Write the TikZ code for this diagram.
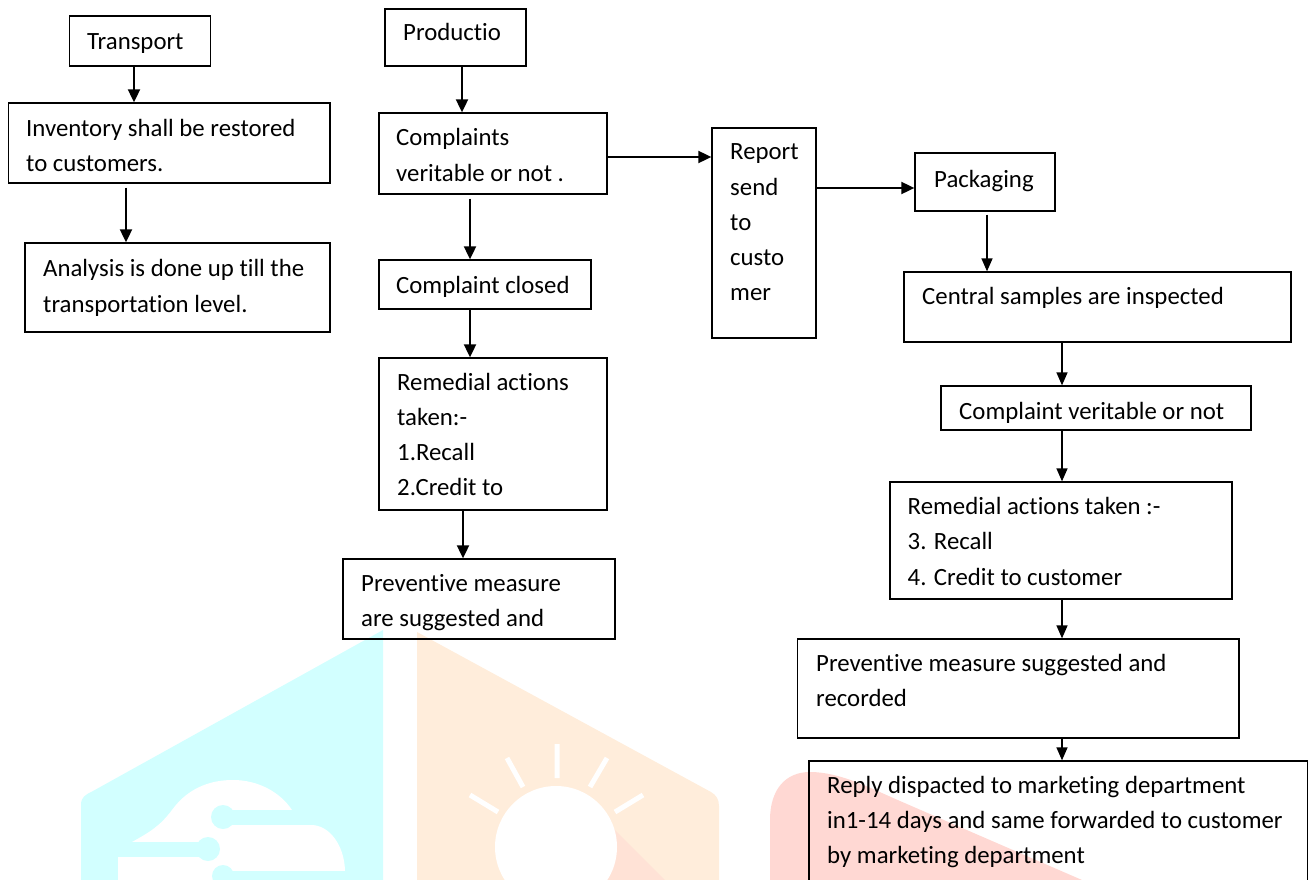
\documentclass[tikz,border=0pt]{standalone}
\usepackage{fontspec}
\setmainfont{Carlito}[Ligatures={NoCommon,NoRare,NoContextual}]
\usetikzlibrary{arrows.meta,fit}
\definecolor{wmcyan}{HTML}{D2FFFF}
\definecolor{wmorange}{HTML}{FFEDDB}
\definecolor{wmred}{HTML}{FFD8D3}
\definecolor{wmmix}{HTML}{FFE2D6}
\newcommand\tlines[5]{%
  \foreach \t [count=\i] in {#5} {%
    \node[txt] (#1-\i) at (#2,{#3+(\i-1)*#4}) {\t};}}
\begin{document}
\begin{tikzpicture}[x=1pt,y=-1pt,
  box/.style={draw,line width=1.3pt,inner sep=0pt,fit={#1}},
  txt/.style={inner sep=0pt,anchor=base west,font=\fontsize{24.8}{35.5}\selectfont},
  arr/.style={line width=1.9pt,-{Triangle[width=12pt,length=13pt]}},
  arrb/.style={line width=1.4pt,-{Triangle[width=11pt,length=13pt]}}]
\useasboundingbox (0,0) rectangle (1309,880);
% ---- watermark ----
\fill[wmcyan] (81,880) -- (81,805) .. controls (81,797) and (85,795) .. (93,791) -- (383,630) -- (383,880) -- cycle;
\fill[white] (118,880) -- (118,842) -- (132,842) .. controls (150,832) and (160,826) .. (172,810)
   .. controls (190,785) and (215,780) .. (233,780) .. controls (258,780) and (280,792) .. (292,810)
   -- (300,825) -- (313,825) .. controls (333,827) and (345,850) .. (345,872) -- (345,880) -- cycle;
\fill[wmcyan] (223,810) rectangle (320,825);
\fill[wmcyan] (223,817) circle (12);
\fill[wmcyan] (105,842) rectangle (208,857);
\fill[wmcyan] (208,849) circle (12);
\fill[wmcyan] (223,871) rectangle (350,880);
\fill[wmcyan] (223,876) circle (11);
\fill[wmorange] (417,880) -- (417,632) -- (711,792) .. controls (716,795) and (719,799) .. (719,806) -- (719,880) -- cycle;
\fill[wmmix] (600,815) -- (665,880) -- (600,880) -- cycle;
\fill[white] (556,847) circle (61);
\draw[white,line width=5pt] (557,744) -- (557,778) (507,758) -- (523,787) (607,758) -- (590,787)
   (470,795) -- (498,812) (643,795) -- (615,812);
\fill[wmred] (770,880) -- (770,820) .. controls (770,790) and (785,772) .. (810,772)
   .. controls (840,772) and (870,788) .. (900,801) -- (1082,880) -- cycle;
% ---- boxes ----
\node[box={(69.4,16) (210.4,66)}] (tr) {};
\node[box={(8.4,103) (330,183)}] (inv) {};
\node[box={(25,243) (330,332)}] (ana) {};
\node[box={(385,9) (526,66)}] (prod) {};
\node[box={(379,113) (607,194)}] (comp) {};
\node[box={(379,260) (591,309)}] (clos) {};
\node[box={(379,358) (607,510)}] (remA) {};
\node[box={(343,559) (615,639)}] (prevA) {};
\node[box={(712,128) (816,338)}] (rep) {};
\node[box={(915,153) (1055,211)}] (pack) {};
\node[box={(904,272) (1291,342)}] (cent) {};
\node[box={(941,386) (1251,430)}] (cv) {};
\node[box={(890,482) (1232,599)}] (remB) {};
\node[box={(797.5,639) (1239,738)}] (prevB) {};
\node[box={(809,761) (1307.6,890)}] (reply) {};
% ---- texts ----
\tlines{trt}{87}{50}{35.5}{Transport}
\tlines{invt}{26}{136}{35.5}{Inventory shall be restored,to customers.}
\tlines{anat}{43}{276}{36}{Analysis is done up till the,transportation level.}
\tlines{prodt}{403}{41}{35.5}{Productio}
\tlines{compt}{396}{146}{35.5}{Complaints,veritable or not .}
\tlines{clost}{396}{293}{35.5}{Complaint closed}
\tlines{remAt}{397}{390}{35.3}{Remedial actions,taken:-,1.Recall,2.Credit to}
\tlines{prevAt}{361}{591}{35.3}{Preventive measure,are suggested and}
\tlines{rept}{730}{160}{35}{Report,send,to,custo,mer}
\tlines{packt}{934}{187}{35.5}{Packaging}
\tlines{centt}{922}{304}{35.5}{Central samples are inspected}
\tlines{cvt}{959}{419}{35.5}{Complaint veritable or not}
\tlines{remBt}{907.5}{514}{35.5}{Remedial actions taken :-,3. Recall,4. Credit to customer}
\tlines{prevBt}{816}{671}{35.8}{Preventive measure suggested and,recorded}
\tlines{replyt}{827}{793}{35}{Reply dispacted to marketing department,in1-14 days and same forwarded to customer,by marketing department}
% ---- connector columns ----
\coordinate (c1) at (134,0);
\coordinate (c2) at (126,0);
\coordinate (c3) at (462,0);
\coordinate (c4) at (470,0);
\coordinate (c5) at (463,0);
\coordinate (c6) at (987,0);
\coordinate (c7) at (1062,0);
\coordinate (r1) at (0,157);
\coordinate (r2) at (0,188);
% ---- connectors ----
\draw[arr] (tr.south -| c1) -- (inv.north -| c1);
\draw[arr,shorten <=4pt] (inv.south -| c2) -- (ana.north -| c2);
\draw[arr] (prod.south -| c3) -- (comp.north -| c3);
\draw[arr,shorten <=4pt] (comp.south -| c4) -- (clos.north -| c4);
\draw[arr] (clos.south -| c4) -- (remA.north -| c4);
\draw[arr] (remA.south -| c5) -- (prevA.north -| c5);
\draw[arr] (comp.east |- r1) -- (rep.west |- r1);
\draw[arr] (rep.east |- r2) -- (pack.west |- r2);
\draw[arrb,shorten <=3pt] (pack.south -| c6) -- (cent.north -| c6);
\draw[arrb] (cent.south -| c7) -- (cv.north -| c7);
\draw[arrb] (cv.south -| c7) -- (remB.north -| c7);
\draw[arrb] (remB.south -| c7) -- (prevB.north -| c7);
\draw[arrb] (prevB.south -| c7) -- (reply.north -| c7);
\end{tikzpicture}
\end{document}
